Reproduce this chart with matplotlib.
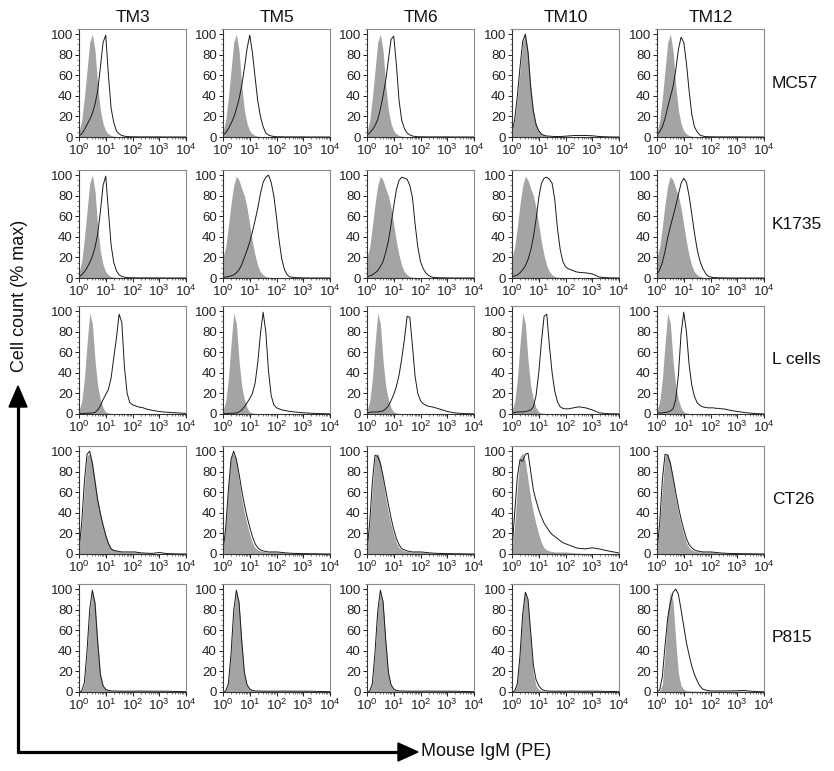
import numpy as np
import matplotlib
matplotlib.use("Agg")
import matplotlib.pyplot as plt
from matplotlib.patches import Polygon
from matplotlib.ticker import FixedLocator, MultipleLocator, LogLocator, NullFormatter

plt.rcParams['font.family'] = ['Liberation Sans', 'DejaVu Sans']
plt.rcParams['mathtext.fontset'] = 'custom'
plt.rcParams['mathtext.rm'] = 'Liberation Sans'
plt.rcParams['mathtext.it'] = 'Liberation Sans:italic'

# ---------------- data ----------------
columns = ['TM3', 'TM5', 'TM6', 'TM10', 'TM12']
cell_lines = ['MC57', 'K1735', 'L cells', 'CT26', 'P815']
x_tick_labels = [r'$\mathregular{10^{0}}$', r'$\mathregular{10^{1}}$', r'$\mathregular{10^{2}}$',
                 r'$\mathregular{10^{3}}$', r'$\mathregular{10^{4}}$']
y_ticks = [0, 20, 40, 60, 80, 100]
x_label = 'Mouse IgM (PE)'
y_label = 'Cell count (% max)'

# fluorescence positions (decades, log10 of PE intensity)
log_fluor = [0.0, 0.1, 0.2, 0.3, 0.4, 0.5, 0.6, 0.7, 0.8, 0.9,
             1.0, 1.1, 1.2, 1.3, 1.4, 1.5, 1.6, 1.7, 1.8, 1.9,
             2.0, 2.1, 2.2, 2.3, 2.4, 2.5,
             2.75, 3.0, 3.25, 3.5, 3.75, 4.0]

# isotype-control (grey) histograms, % of max
grey_mc57 = [5, 16, 38, 65, 92, 100, 84, 50, 26, 13,
             6, 3, 1.5, 0.8, 0.4, 0.3, 0.3, 0.2, 0.2, 0.2,
             0.2, 0.2, 0.2, 0.2, 0.2, 0.2,
             0.2, 0.2, 0.1, 0.1, 0, 0]
grey_k1735 = [20, 30, 50, 72, 90, 99, 95, 87, 80, 68,
              52, 35, 22, 12, 6, 3, 1.5, 0.8, 0.4, 0.2,
              0.1, 0.1, 0.1, 0.1, 0.1, 0.1,
              0, 0, 0, 0, 0, 0]
grey_lcell = [3, 12, 34, 68, 98, 88, 52, 27, 14, 6,
              2, 1, 0.5, 0.3, 0.2, 0.1, 0.1, 0.1, 0.1, 0.1,
              0.1, 0.1, 0.1, 0.1, 0.1, 0.1,
              0, 0, 0, 0, 0, 0]
grey_ct26 = [3, 28, 65, 95, 98, 90, 72, 54, 40, 29,
             19, 11, 6, 4, 3, 2.5, 2, 2, 2, 2,
             2, 1.8, 1.5, 1.2, 1, 0.8,
             0.5, 0.4, 0.3, 0.2, 0.1, 0]
grey_p815 = [0, 1, 8, 38, 78, 98, 88, 50, 18, 6,
             2.5, 1.5, 1, 1, 0.9, 0.8, 0.8, 0.8, 0.8, 0.8,
             0.8, 0.8, 0.9, 0.9, 0.8, 0.8,
             0.8, 0.8, 0.8, 0.6, 0.5, 0.3]

# anti-IgM stained (black line) histograms, % of max
mc57_tm3 = [1, 3, 7, 12, 17, 23, 32, 45, 68, 92,
            99, 60, 28, 14, 6, 3, 1.5, 0.8, 0.4, 0.3,
            0.2, 0.2, 0.1, 0.1, 0.1, 0.1,
            0.1, 0.1, 0, 0, 0, 0]
mc57_tm5 = [2, 4, 8, 13, 19, 27, 37, 50, 67, 86,
            99, 82, 58, 35, 20, 10, 4, 2, 1, 0.5,
            0.3, 0.2, 0.2, 0.1, 0.1, 0.1,
            0.1, 0.1, 0, 0, 0, 0]
mc57_tm6 = [2, 4, 7, 11, 17, 27, 40, 55, 75, 95,
            98, 70, 35, 16, 8, 4, 2, 1, 0.5, 0.3,
            0.2, 0.2, 0.1, 0.1, 0.1, 0.1,
            0.1, 0.1, 0, 0, 0, 0]
mc57_tm10 = [5, 17, 40, 68, 93, 100, 82, 48, 25, 12,
             6, 3, 1.5, 1, 0.8, 0.6, 0.5, 0.5, 0.5, 0.6,
             0.8, 1, 1.2, 1.4, 1.5, 1.5,
             1.5, 1.2, 0.5, 0.2, 0, 0]
mc57_tm12 = [2, 5, 10, 18, 29, 39, 49, 65, 85, 97,
             92, 72, 45, 22, 10, 5, 2, 1, 0.4, 0.3,
             0.2, 0.2, 0.1, 0.1, 0.1, 0.1,
             0.1, 0.1, 0, 0, 0, 0]

k1735_tm3 = [1, 3, 6, 10, 15, 21, 30, 43, 65, 90,
             99, 65, 32, 15, 7, 3, 1.5, 0.8, 0.4, 0.3,
             0.2, 0.2, 0.1, 0.1, 0.1, 0.1,
             0.1, 0.1, 0, 0, 0, 0]
k1735_tm5 = [0.5, 1, 1.5, 2, 3, 5, 8, 13, 20, 27,
             35, 45, 56, 68, 82, 93, 98, 100, 93, 80,
             59, 36, 18, 8, 3, 1,
             0.3, 0.1, 0, 0, 0, 0]
k1735_tm6 = [1, 2, 3, 5, 7, 11, 16, 25, 36, 52,
             70, 86, 95, 98, 97, 96, 90, 78, 52, 30,
             16, 9, 5, 2.5, 1.2, 0.5,
             0.2, 0.1, 0, 0, 0, 0]
k1735_tm10 = [1, 2, 3, 5, 8, 12, 18, 27, 40, 57,
              78, 92, 97, 98, 96, 92, 76, 48, 28, 16,
              11, 9, 8, 7, 6, 5.5,
              5, 4, 1, 0.3, 0.1, 0]
k1735_tm12 = [3, 8, 15, 26, 39, 50, 60, 70, 81, 92,
              97, 93, 80, 62, 44, 28, 17, 10, 5, 2,
              1, 0.5, 0.3, 0.2, 0.1, 0.1,
              0, 0, 0, 0, 0, 0]

lcell_tm3 = [0.5, 0.5, 0.6, 0.7, 0.8, 1, 1.5, 4, 8, 14,
             19, 24, 35, 55, 74, 97, 89, 45, 20, 11,
             9, 8, 7, 6.5, 6, 5,
             3.5, 2.4, 1.8, 1.3, 1, 0.6]
lcell_tm5 = [0.5, 0.5, 0.6, 0.7, 0.8, 1, 2, 4, 7, 11,
             15, 20, 30, 50, 78, 99, 80, 42, 18, 9,
             6, 5, 4, 3.5, 3, 2.5,
             1.8, 1.2, 0.8, 0.5, 0.3, 0.2]
lcell_tm6 = [1, 1.5, 2, 2, 2, 2.5, 3, 5, 8, 13,
             19, 27, 38, 54, 73, 95, 94, 66, 36, 20,
             13, 10, 8.5, 7.5, 7, 6.5,
             4.5, 2.5, 1.2, 0.6, 0.3, 0.2]
lcell_tm10 = [1, 1.5, 2, 2, 2, 2.5, 3, 4, 7, 18,
              40, 70, 95, 97, 66, 40, 22, 12, 7, 5.5,
              5, 5, 5.5, 6, 6.5, 7,
              6, 4, 1.2, 0.4, 0.2, 0.1]
lcell_tm12 = [1, 1, 1, 1.5, 2, 3, 5, 14, 38, 78,
              99, 80, 48, 28, 17, 11, 8.5, 7, 6.5, 6,
              6, 6, 5.5, 5.5, 5, 5,
              3.5, 2.5, 1.5, 0.8, 0.3, 0.1]

ct26_tm3 = [4, 30, 70, 97, 100, 88, 70, 52, 39, 28,
            18, 10, 5, 3.5, 3, 2.5, 2, 2, 2, 2,
            2, 2, 1.5, 1.2, 1, 0.8,
            0.6, 1.5, 0.5, 0.2, 0.1, 0]
ct26_tm5 = [3, 25, 62, 92, 100, 92, 78, 62, 48, 36,
            26, 17, 10, 6, 4, 3, 2.5, 2, 2, 2,
            2, 1.8, 1.5, 1.2, 1, 0.8,
            0.5, 0.4, 0.3, 0.2, 0.1, 0]
ct26_tm6 = [3, 30, 70, 96, 95, 88, 76, 62, 48, 35,
            24, 15, 9, 5, 4, 3, 2.5, 2, 2, 2,
            2, 1.8, 1.5, 1.2, 1, 0.8,
            0.5, 0.4, 0.3, 0.2, 0.1, 0]
ct26_tm10 = [3, 40, 75, 92, 90, 97, 98, 80, 62, 52,
             43, 36, 30, 26, 22, 19, 17, 15, 13, 11,
             10, 9, 8, 7, 6, 5.5,
             5, 6, 5, 3.5, 2.2, 1]
ct26_tm12 = [3, 30, 72, 97, 96, 88, 75, 60, 46, 34,
             24, 15, 9, 6, 4, 3, 2.5, 2, 2, 2,
             2, 1.8, 1.5, 1.2, 1, 0.8,
             0.5, 0.4, 0.3, 0.2, 0.1, 0]

p815_tm3 = [0, 1, 9, 40, 80, 99, 86, 48, 17, 6,
            2.5, 1.5, 1, 1, 0.9, 0.8, 0.8, 0.8, 0.8, 0.8,
            0.8, 0.8, 0.9, 0.9, 0.8, 0.8,
            0.8, 0.8, 0.8, 0.6, 0.5, 0.3]
p815_tm5 = [0, 1, 8, 37, 79, 99, 87, 50, 19, 7,
            3, 1.5, 1, 1, 0.9, 0.8, 0.8, 0.8, 0.8, 0.8,
            0.8, 0.8, 0.9, 0.9, 0.8, 0.8,
            0.8, 0.8, 0.8, 0.6, 0.5, 0.3]
p815_tm6 = [0, 1, 8, 39, 78, 99, 88, 51, 19, 7,
            3, 1.5, 1, 1, 0.9, 0.8, 0.8, 0.8, 0.8, 0.8,
            0.8, 0.8, 0.9, 0.9, 0.8, 0.8,
            0.8, 0.8, 0.8, 0.6, 0.5, 0.3]
p815_tm10 = [0, 1, 8, 36, 76, 97, 90, 58, 26, 12,
             6, 3, 1.5, 1, 0.9, 0.8, 0.8, 0.8, 0.8, 0.8,
             0.8, 0.8, 0.9, 0.9, 0.8, 0.8,
             0.8, 0.8, 0.8, 0.6, 0.5, 0.3]
p815_tm12 = [0, 2, 15, 45, 72, 87, 97, 100, 95, 80,
             64, 48, 36, 25, 17, 11, 6, 3, 2, 1.5,
             1, 1, 1, 1, 1, 1,
             1, 1.2, 1.5, 0.8, 0.4, 0.2]

grey_rows = [
    [grey_mc57, grey_mc57, grey_mc57, grey_mc57, grey_mc57],
    [grey_mc57, grey_k1735, grey_k1735, grey_k1735, grey_k1735],
    [grey_lcell, grey_lcell, grey_lcell, grey_lcell, grey_lcell],
    [grey_ct26, grey_ct26, grey_ct26, grey_ct26, grey_ct26],
    [grey_p815, grey_p815, grey_p815, grey_p815, grey_p815],
]
black_rows = [
    [mc57_tm3, mc57_tm5, mc57_tm6, mc57_tm10, mc57_tm12],
    [k1735_tm3, k1735_tm5, k1735_tm6, k1735_tm10, k1735_tm12],
    [lcell_tm3, lcell_tm5, lcell_tm6, lcell_tm10, lcell_tm12],
    [ct26_tm3, ct26_tm5, ct26_tm6, ct26_tm10, ct26_tm12],
    [p815_tm3, p815_tm5, p815_tm6, p815_tm10, p815_tm12],
]

# ---------------- layout (pixels) ----------------
W, H = 834, 771
col_left = [79, 223, 367, 512, 657]
row_top = [29, 170, 306, 446, 584]
pw, ph = 107, 108

fig = plt.figure(figsize=(W / 100, H / 100), dpi=100)
fig.patch.set_facecolor('white')

x_vals = 10 ** np.array(log_fluor)
tick_fs = 9.5
title_fs = 12.5
label_fs = 13

for r in range(5):
    for c in range(5):
        ax = fig.add_axes([col_left[c] / W, 1 - (row_top[r] + ph) / H, pw / W, ph / H])
        ax.fill_between(x_vals, 0, grey_rows[r][c], color='#a4a4a4', lw=0, zorder=1)
        ax.plot(x_vals, black_rows[r][c], color='#1a1a1a', lw=0.7, zorder=2)
        ax.set_xscale('log')
        ax.set_xlim(1, 1e4)
        ax.set_ylim(0, 105)
        ax.xaxis.set_major_locator(FixedLocator([1, 10, 100, 1000, 10000]))
        ax.set_xticklabels(x_tick_labels)
        ax.xaxis.set_minor_locator(LogLocator(base=10, subs=np.arange(2, 10), numticks=20))
        ax.xaxis.set_minor_formatter(NullFormatter())
        ax.set_yticks(y_ticks)
        ax.yaxis.set_minor_locator(MultipleLocator(5))
        ax.tick_params(axis='both', which='major', direction='out', length=3, width=0.7,
                       labelsize=tick_fs, colors='#222222', pad=1.5)
        ax.tick_params(axis='both', which='minor', direction='out', length=1.5, width=0.5,
                       colors='#444444')
        for s in ['left', 'bottom']:
            ax.spines[s].set_color('#333333')
            ax.spines[s].set_linewidth(0.8)
        for s in ['top', 'right']:
            ax.spines[s].set_color('#8c8c8c')
            ax.spines[s].set_linewidth(0.8)
        if r == 0:
            ax.set_title(columns[c], fontsize=title_fs, pad=5, color='#111111')
        if c == 4:
            fig.text(772 / W, 1 - (row_top[r] + ph / 2) / H, cell_lines[r],
                     fontsize=title_fs, ha='left', va='center', color='#111111')

# ---------------- overall axis arrows ----------------
ov = fig.add_axes([0, 0, 1, 1], zorder=5)
ov.set_xlim(0, W)
ov.set_ylim(H, 0)
ov.axis('off')
ov.patch.set_alpha(0)
ov.plot([18, 18], [753, 404], color='black', lw=2.3, solid_capstyle='butt')
ov.plot([17, 402], [752, 752], color='black', lw=2.3, solid_capstyle='butt')
ov.add_patch(Polygon([[9, 407], [27, 407], [18, 386]], closed=True, color='black'))
ov.add_patch(Polygon([[398, 743], [398, 761], [418, 752]], closed=True, color='black'))
ov.text(421, 752, x_label, fontsize=label_fs, ha='left', va='center', color='#111111')
ov.text(20, 296, y_label, fontsize=label_fs, ha='center', va='center', rotation=90,
        color='#111111')

fig.savefig('out.png', dpi=100)
